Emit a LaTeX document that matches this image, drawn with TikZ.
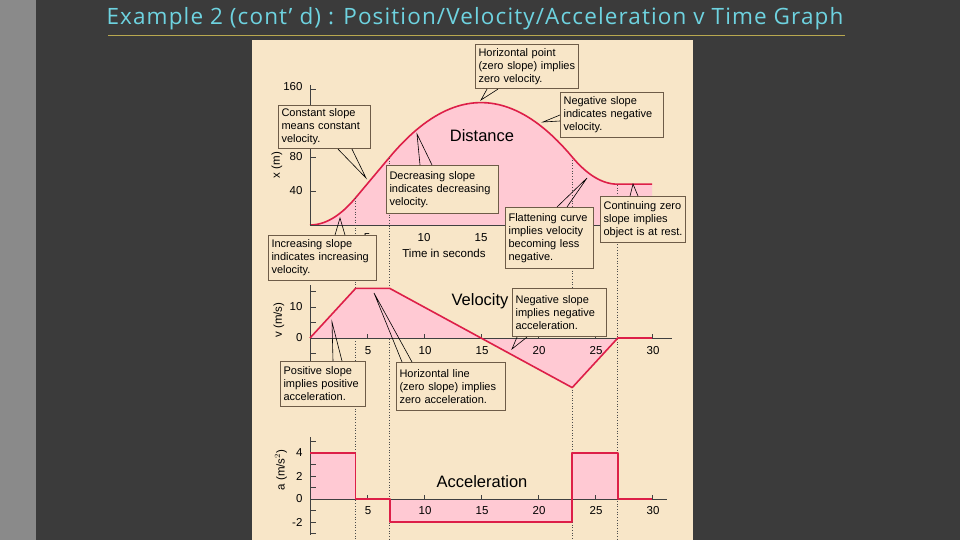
\documentclass[tikz,border=0pt]{standalone}
\usepackage{fontspec}
\usetikzlibrary{calc}
\setmainfont{Liberation Sans}
\newfontfamily\titlefont[LetterSpace=5]{Open Sans}
\begin{document}
\begin{tikzpicture}[x=1pt,y=-1pt,
  curve/.style={draw=curvered,line width=1.6pt,line join=round},
  callout/.style={draw=boxbrd,line width=1.1pt,fill=cream,anchor=north west,inner sep=3pt,align=left,font=\fontsize{11}{13}\selectfont},
  ptr/.style={draw=black,line width=0.6pt},
  dot/.style={draw=black!70,dotted,line width=0.7pt},
  ax/.style={draw=black!75,line width=0.8pt},
  tl/.style={font=\fontsize{11.5}{12}\selectfont},
  big/.style={font=\fontsize{16.5}{18}\selectfont}]
\definecolor{bg}{HTML}{3B3B3B}
\definecolor{strip}{HTML}{8A8A8A}
\definecolor{cream}{HTML}{F8E6C8}
\definecolor{pinkf}{HTML}{FFC9D3}
\definecolor{curvered}{HTML}{DD1F48}
\definecolor{boxbrd}{HTML}{6E5C48}
\definecolor{titlec}{HTML}{6ED3E0}
\definecolor{uline}{HTML}{B8A850}
\useasboundingbox (0,0) rectangle (960,540);
\fill[bg] (0,0) rectangle (960,540);
\fill[strip] (0,0) rectangle (36,540);
\node[font=\titlefont\fontsize{22.5}{26}\selectfont,text=titlec] (title) at (475,19) {Example 2 (cont’ d) : Position/Velocity/Acceleration v Time Graph};
\draw[uline,line width=1pt] (108,36) -- (845,36);
\fill[cream] (252,40) rectangle (693,540);
% ---------- Distance ----------
\fill[pinkf] plot[domain=0:4,samples=20] ({310+11.4*\x},{225-0.85*2*\x*\x})
 -- plot[domain=7:23,samples=50] ({310+11.4*\x},{225-0.85*(80+16*(\x-7)-(\x-7)^2)})
 -- plot[domain=23:27,samples=20] ({310+11.4*\x},{225-0.85*(80-16*(\x-23)+2*(\x-23)^2)})
 -- (652,{225-0.85*48}) -- (652,225) -- (310,225) -- cycle;
\draw[curve] plot[domain=0:4,samples=20] ({310+11.4*\x},{225-0.85*2*\x*\x})
 -- plot[domain=7:23,samples=50] ({310+11.4*\x},{225-0.85*(80+16*(\x-7)-(\x-7)^2)})
 -- plot[domain=23:27,samples=20] ({310+11.4*\x},{225-0.85*(80-16*(\x-23)+2*(\x-23)^2)})
 -- (652,{225-0.85*48});
\draw[ax] (310,85) -- (310,225) -- (652,225);
\foreach \v in {40,80,120,160} \draw[ax] (310,{225-0.85*\v}) -- (316,{225-0.85*\v});
\node[tl,anchor=east] (d160) at (306,87) {160};
\node[tl,anchor=east] (d80) at (306,157) {80};
\node[tl,anchor=east] (d40) at (306,191) {40};
\node[tl] (dt5) at (367,238) {5};
\node[tl] (dt10) at (424,238) {10};
\node[tl] (dt15) at (481,238) {15};
\node[tl] (tis) at (444,253) {Time in seconds};
\node[tl,rotate=90] (xm) at (277,165) {x (m)};
\node[big] (dist) at (482,136) {Distance};
% dotted lines
\draw[dot] (355.6,198) -- (355.6,540);
\draw[dot] (389.8,158) -- (389.8,540);
\draw[dot] (572.2,160) -- (572.2,540);
\draw[dot] (617.8,185) -- (617.8,540);
% ---------- Velocity ----------
\fill[pinkf] (310,338) -- (355.6,288.4) -- (389.8,288.4) -- (572.2,387.6) -- (617.8,338) -- cycle;
\draw[ax] (310,285) -- (310,362);
\foreach \v in {-5,0,5,10,15} \draw[ax] (310,{338-3.1*\v}) -- (316,{338-3.1*\v});
\draw[ax] (310,338) -- (672,338);
\foreach \t in {5,10,...,30} \draw[ax] ({310+11.4*\t},338) -- ({310+11.4*\t},334);
\draw[curve] (310,338) -- (355.6,288.4) -- (389.8,288.4) -- (572.2,387.6) -- (617.8,338) -- (652,338);
\node[tl,anchor=east] (v10) at (306,307) {10};
\node[tl,anchor=east] (v0) at (306,338) {0};
\foreach \t in {5,10,...,30} \node[tl] (vt\t) at ({311+11.4*\t},351) {\t};
\node[tl,rotate=90] (vm) at (279,320) {v (m/s)};
\node[big] (vel) at (480,301) {Velocity};
% ---------- Acceleration ----------
\fill[pinkf] (310,499) rectangle (355.6,453);
\fill[pinkf] (389.8,499) rectangle (572.2,522);
\fill[pinkf] (572.2,499) rectangle (617.8,453);
\draw[ax] (310,437) -- (310,535);
\foreach \v in {-3,-2,...,5} \draw[ax] (310,{499-11.5*\v}) -- (316,{499-11.5*\v});
\draw[ax] (310,499) -- (667,499);
\foreach \t in {5,10,...,30} \draw[ax] ({310+11.4*\t},499) -- ({310+11.4*\t},495);
\draw[curve] (310,453) -- (355.6,453) -- (355.6,499) -- (389.8,499) -- (389.8,522) -- (572.2,522) -- (572.2,453) -- (617.8,453) -- (617.8,499) -- (652,499);
\node[tl,anchor=east] (a4) at (306,453) {4};
\node[tl,anchor=east] (a2) at (306,476) {2};
\node[tl,anchor=east] (a0) at (306,499) {0};
\node[tl,anchor=east] (am2) at (306,522) {-2};
\foreach \t in {5,10,...,30} \node[tl] (at\t) at ({311+11.4*\t},511) {\t};
\node[tl,rotate=90] (amm) at (281,470) {a (m/s$^2$)};
\node[big] (acc) at (482,482) {Acceleration};
% ---------- Callouts ----------
\node[callout,text width=86pt,minimum height=43pt] (c1) at (278,105) {Constant slope\\means constant\\velocity.};
\node[callout,text width=97pt,minimum height=44pt] (c2) at (475,44) {Horizontal point\\(zero slope) implies\\zero velocity.};
\node[callout,text width=97pt,minimum height=45pt] (c3) at (560,92) {Negative slope\\indicates negative\\velocity.};
\node[callout,text width=106pt,minimum height=48pt] (c4) at (386,165) {Decreasing slope\\indicates decreasing\\velocity.};
\node[callout,text width=82pt,minimum height=61pt] (c5) at (505,207) {Flattening curve\\implies velocity\\becoming less\\negative.};
\node[callout,text width=79pt,minimum height=46pt] (c6) at (600,196) {Continuing zero\\slope implies\\object is at rest.};
\node[callout,text width=102pt,minimum height=45pt] (c7) at (268,235) {Increasing slope\\indicates increasing\\velocity.};
\node[callout,text width=88pt,minimum height=48pt] (c8) at (512,288) {Negative slope\\implies negative\\acceleration.};
\node[callout,text width=79pt,minimum height=45pt] (c9) at (280,361) {Positive slope\\implies positive\\acceleration.};
\node[callout,text width=103pt,minimum height=48pt] (c10) at (396,362) {Horizontal line\\(zero slope) implies\\zero acceleration.};
% pointer tips
\coordinate (p1) at (366,178);
\coordinate (p2) at (481,100);
\coordinate (p3) at (543,122);
\coordinate (p4) at (417,134);
\coordinate (p5) at (587,178);
\coordinate (p6) at (633,184);
\coordinate (p7) at (340,218);
\coordinate (p8) at (512,349);
\coordinate (p9) at (332,322);
\coordinate (p10) at (374,293);
\draw[ptr] ($(c1.south west)+(60,0)$) -- (p1) -- ($(c1.south west)+(74,0)$);
\draw[ptr] ($(c2.south west)+(12,0)$) -- (p2) -- ($(c2.south west)+(23,0)$);
\draw[ptr] ($(c3.north west)+(0,23)$) -- (p3) -- ($(c3.north west)+(0,29)$);
\draw[ptr] ($(c4.north west)+(34,0)$) -- (p4) -- ($(c4.north west)+(46,0)$);
\draw[ptr] ($(c5.north west)+(52,0)$) -- (p5) -- ($(c5.north west)+(62,0)$);
\draw[ptr] ($(c6.north west)+(30,0)$) -- (p6) -- ($(c6.north west)+(38,0)$);
\draw[ptr] ($(c7.north west)+(67,0)$) -- (p7) -- ($(c7.north west)+(77,0)$);
\draw[ptr] ($(c8.south west)+(5,0)$) -- (p8) -- ($(c8.south west)+(15,0)$);
\draw[ptr] ($(c9.north west)+(53,0)$) -- (p9) -- ($(c9.north west)+(62,0)$);
\draw[ptr] ($(c10.north west)+(6,0)$) -- (p10) -- ($(c10.north west)+(16,0)$);
\end{tikzpicture}
\end{document}
